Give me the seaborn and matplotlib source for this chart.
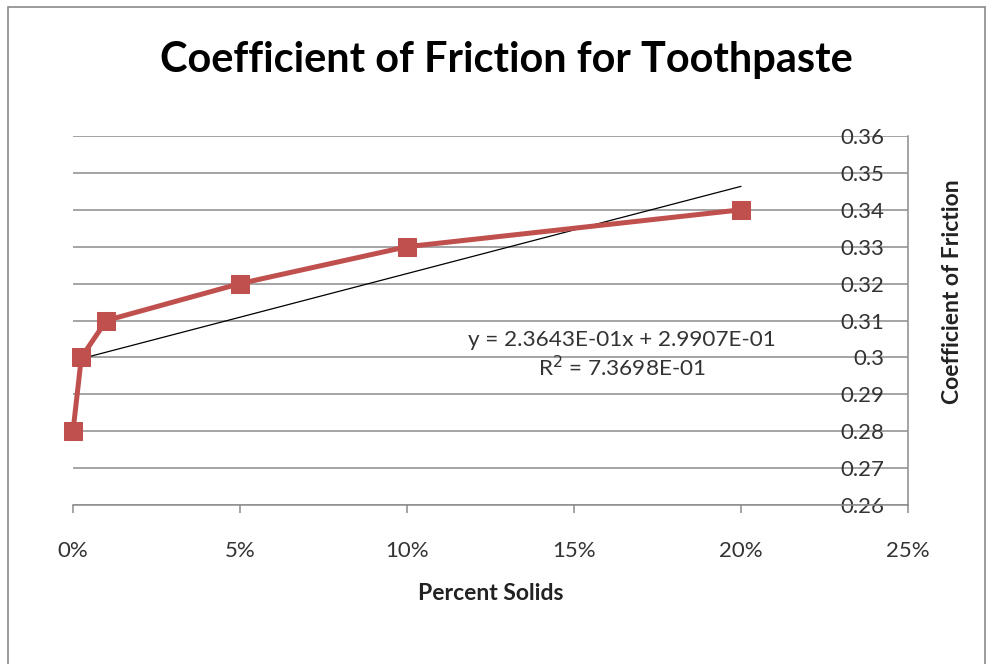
import numpy as np
import pandas as pd
import matplotlib
matplotlib.use("Agg")
import matplotlib.pyplot as plt
from matplotlib.patches import Rectangle
from matplotlib.ticker import FuncFormatter
import seaborn as sns

# Measurements: solids fraction vs. coefficient of friction
percent_solids = [0.0, 0.0025, 0.01, 0.05, 0.10, 0.20]
friction = [0.28, 0.30, 0.31, 0.32, 0.33, 0.34]

# Linear trendline coefficients (as printed on the chart)
slope = 2.3643e-01
intercept = 2.9907e-01
r_squared = 7.3698e-01

x_ticks = [0.0, 0.05, 0.10, 0.15, 0.20, 0.25]
y_ticks = [0.26, 0.27, 0.28, 0.29, 0.30, 0.31, 0.32, 0.33, 0.34, 0.35, 0.36]

sns.set_theme(style="white")
plt.rcParams["font.family"] = ["Lato", "DejaVu Sans"]

W, H = 995, 664
fig = plt.figure(figsize=(W / 100, H / 100), dpi=100)
fig.patch.set_facecolor("white")

# outer chart frame
fig.add_artist(Rectangle((8 / W, -0.05), (985 - 8) / W, 1.05 - 7 / H,
                         transform=fig.transFigure, fill=False,
                         edgecolor="#8a8a8a", linewidth=1.2))

ax = fig.add_axes([73 / W, 1 - 505 / H, (908 - 73) / W, (505 - 136) / H])
ax.set_facecolor("white")

df = pd.DataFrame({"solids": percent_solids, "cof": friction})
sns.lineplot(data=df, x="solids", y="cof", ax=ax, color="#C0504D",
             linewidth=3.6, marker="s", markersize=13,
             markeredgecolor="#C0504D", markerfacecolor="#C0504D",
             zorder=4, legend=False, clip_on=False)

# trendline over the data range
tx = np.array([min(percent_solids), max(percent_solids)])
ax.plot(tx, slope * tx + intercept, color="black", linewidth=0.9, zorder=3)

ax.set_xlim(0, 0.25)
ax.set_ylim(0.26, 0.36)
ax.set_xticks(x_ticks)
ax.set_yticks(y_ticks)
ax.xaxis.set_major_formatter(FuncFormatter(lambda v, p: f"{v * 100:.0f}%"))
ax.yaxis.set_major_formatter(FuncFormatter(lambda v, p: f"{v:g}"))

ax.grid(axis="y", color="#8c8c8c", linewidth=1.1)
ax.grid(axis="x", visible=False)
ax.set_axisbelow(True)

for side in ["left", "top"]:
    ax.spines[side].set_visible(False)
for side in ["right", "bottom"]:
    ax.spines[side].set_color("#8c8c8c")
    ax.spines[side].set_linewidth(1.1)

ax.tick_params(axis="y", which="both", left=False, right=False,
               labelleft=False, labelright=True, length=0, pad=-17,
               labelsize=16, labelcolor="#333333")
for lab in ax.get_yticklabels():
    lab.set_horizontalalignment("right")
ax.tick_params(axis="x", direction="out", length=6, width=1.1,
               color="#8c8c8c", pad=20, labelsize=16, labelcolor="#333333",
               bottom=True, top=False)

ax.set_xlabel("")
ax.set_ylabel("")

fig.text(491 / W, 1 - 594 / H, "Percent Solids", ha="center", va="center",
         fontsize=16.5, fontweight="bold", color="#222222")
fig.text(953 / W, 1 - 292 / H, "Coefficient of Friction", ha="center",
         va="center", rotation=90, fontsize=16.5, fontweight="bold",
         color="#222222")
fig.text(506 / W, 1 - 60 / H, "Coefficient of Friction for Toothpaste",
         ha="center", va="center", fontsize=29.9, fontweight="bold",
         color="black")

fig.text(622 / W, 1 - 340 / H, f"y = {slope:.4E}x + {intercept:.4E}",
         ha="center", va="center", fontsize=16.2, color="#333333")
fig.text(622 / W, 1 - 368 / H, f"R$^2$ = {r_squared:.4E}", ha="center",
         va="center", fontsize=16.2, color="#333333")

fig.savefig("out.png", dpi=100, facecolor="white")
